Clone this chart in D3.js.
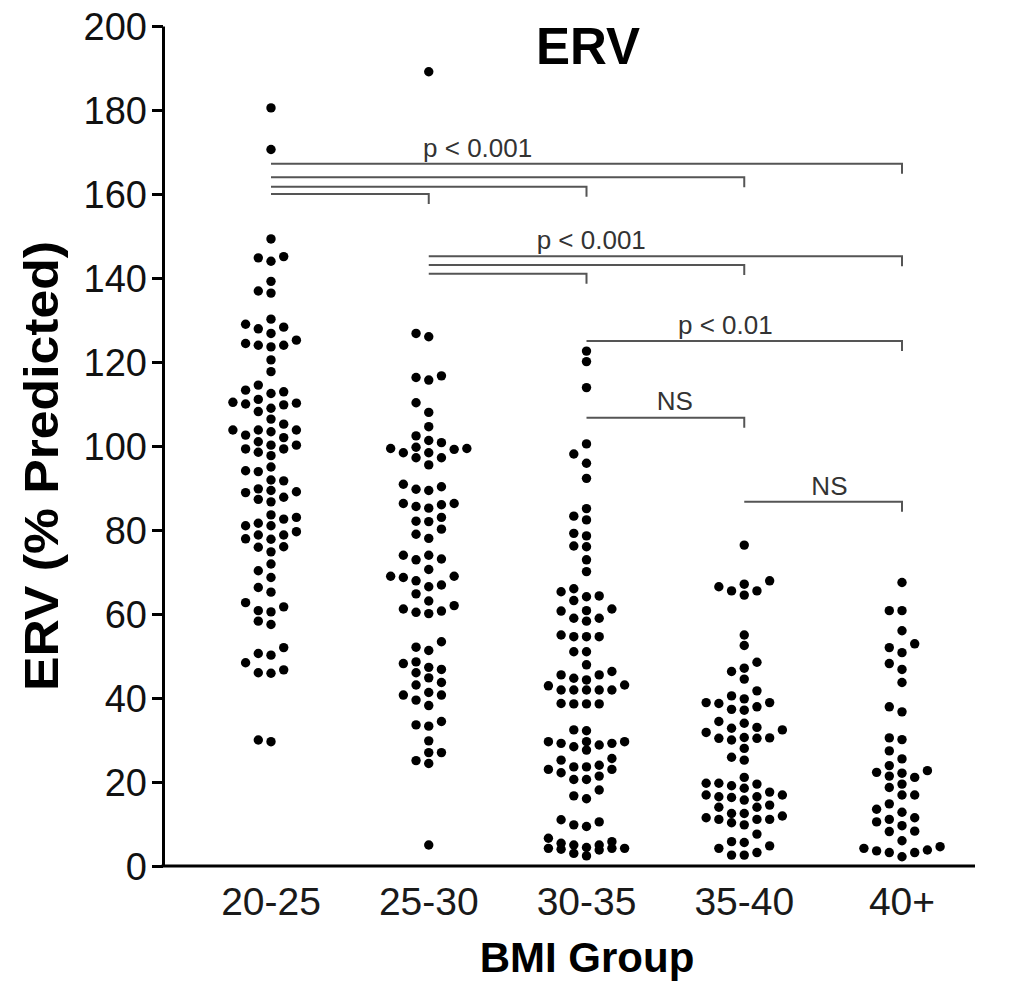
<!DOCTYPE html>
<html>
<head>
<meta charset="utf-8">
<script src="https://cdn.jsdelivr.net/npm/d3@7"></script>
<style>
  html, body { margin: 0; padding: 0; background: #fff; }
  svg { display: block; font-family: "Liberation Sans", Arial, Helvetica, sans-serif; }
</style>
</head>
<body>
<svg id="chart" width="1012" height="987"></svg>
<script>
// ---------- data ----------
const categories = ["20-25", "25-30", "30-35", "35-40", "40+"];

const erv_20_25 = [180.5, 170.6, 149.3, 145.1, 144.0, 144.8, 139.2, 136.9, 136.4, 130.2,
  129.0, 127.9, 128.3, 126.8, 125.2, 124.0, 123.6, 124.0, 124.4, 120.5, 117.7, 114.5, 112.9,
  113.3, 112.5, 110.4, 110.0, 109.8, 110.2, 111.1, 109.0, 108.2, 106.4, 103.8, 103.8, 102.6,
  102.0, 103.4, 103.8, 105.2, 101.0, 100.2, 99.3, 97.7, 98.5, 99.3, 100.2, 94.1, 93.9, 95.0,
  91.9, 91.7, 89.4, 88.9, 87.3, 86.7, 87.8, 89.1, 89.8, 83.6, 82.6, 83.0, 81.0, 81.6, 81.0,
  78.8, 77.8, 79.6, 77.9, 78.8, 74.8, 75.9, 76.0, 71.9, 70.3, 68.7, 66.3, 65.2, 62.7, 60.8,
  61.7, 60.5, 58.3, 57.5, 52.0, 50.2, 50.6, 48.4, 46.0, 45.9, 46.7, 29.6, 30.0];

const erv_25_30 = [189.1, 126.0, 126.8, 116.3, 115.7, 116.7, 110.3, 108.0, 104.6, 102.4,
  101.3, 100.8, 99.7, 98.4, 99.4, 97.2, 99.2, 99.4, 97.2, 98.4, 95.5, 90.3, 89.4, 89.7, 90.9,
  86.3, 85.6, 85.2, 86.0, 86.3, 83.0, 82.0, 82.1, 80.2, 79.0, 78.0, 74.0, 72.9, 73.1, 74.0,
  70.6, 69.0, 68.7, 66.9, 67.9, 69.0, 66.5, 64.8, 63.1, 61.2, 60.4, 60.1, 60.7, 62.0, 53.4,
  51.3, 52.1, 48.6, 46.8, 48.2, 47.3, 46.0, 43.1, 44.8, 43.7, 40.7, 41.3, 39.5, 40.7, 38.2,
  33.6, 33.3, 34.4, 29.8, 27.0, 25.1, 24.4, 27.0, 5.0];

const erv_30_35 = [122.6, 120.1, 113.9, 100.5, 98.1, 95.9, 92.3, 85.1, 82.4, 83.3, 78.6,
  79.2, 76.0, 76.2, 72.9, 70.1, 66.0, 64.3, 63.2, 64.1, 65.3, 61.2, 60.7, 59.0, 58.3, 59.0,
  60.8, 54.6, 54.6, 54.6, 55.0, 51.0, 51.0, 47.9, 46.3, 44.7, 45.5, 45.5, 44.3, 42.9, 41.9,
  41.9, 41.9, 41.9, 41.9, 43.1, 38.6, 38.6, 38.6, 38.7, 32.4, 32.2, 29.6, 29.2, 28.8, 27.6,
  29.6, 28.4, 29.2, 29.6, 25.2, 23.0, 23.6, 23.6, 24.0, 25.6, 23.0, 22.2, 21.4, 20.6, 20.6,
  18.1, 16.7, 16.0, 10.5, 9.4, 9.8, 11.0, 4.2, 3.8, 5.4, 4.2, 6.6, 4.4, 3.0, 5.0, 5.0, 4.0,
  4.2, 2.4, 5.8];

const erv_35_40 = [76.4, 67.1, 65.5, 67.9, 64.5, 65.5, 66.5, 55.0, 52.5, 48.5, 46.3, 47.1,
  44.5, 40.5, 41.7, 38.9, 38.7, 37.3, 37.1, 37.9, 38.9, 39.8, 34.0, 34.4, 33.0, 32.8, 31.8,
  30.6, 30.4, 30.0, 30.4, 30.5, 32.4, 28.0, 25.2, 25.9, 21.1, 19.7, 19.7, 19.1, 18.5, 19.5,
  16.9, 16.5, 16.3, 16.9, 17.6, 15.7, 16.5, 14.5, 14.0, 14.0, 11.9, 11.1, 11.1, 12.5, 12.5,
  9.8, 10.3, 11.1, 11.5, 7.6, 4.8, 5.8, 3.2, 5.6, 2.6, 2.6, 4.2];

const erv_40_plus = [67.5, 60.8, 60.8, 56.0, 52.0, 50.8, 52.9, 48.2, 46.8, 43.7, 36.7, 37.9,
  30.5, 30.1, 27.4, 25.5, 23.9, 22.3, 21.4, 21.1, 22.1, 22.7, 18.7, 19.5, 16.9, 16.9, 14.8,
  13.5, 11.1, 12.8, 10.5, 11.5, 8.2, 9.6, 8.3, 6.0, 4.6, 3.8, 3.2, 2.2, 3.2, 3.6, 4.2];

const seriesValues = [erv_20_25, erv_25_30, erv_30_35, erv_35_40, erv_40_plus];

const yTicks = [0, 20, 40, 60, 80, 100, 120, 140, 160, 180, 200];

// comparison brackets (group indices, level in % predicted)
const bracketFrom  = [0, 0, 0, 0, 1, 1, 1, 2, 2, 3];
const bracketTo    = [4, 3, 2, 1, 4, 3, 2, 4, 3, 4];
const bracketLevel = [167.2, 164.0, 161.7, 160.0, 145.2, 143.1, 141.0, 125.0, 106.7, 86.7];

// significance labels (position in group-index units, level in % predicted)
const sigText  = ["p < 0.001", "p < 0.001", "p < 0.01", "NS", "NS"];
const sigAt    = [1.31, 2.03, 2.88, 2.56, 3.54];
const sigLevel = [168.8, 146.8, 126.7, 108.6, 88.3];

// ---------- layout ----------
const svg = d3.select("#chart");
const axisX = 163, axisBottom = 866, axisTop = 26, axisRight = 975;

const x = d3.scalePoint().domain(categories).range([271, 902]);
const xi = d3.scaleLinear().domain([0, categories.length - 1]).range([271, 902]);
const y = d3.scaleLinear().domain([0, 200]).range([axisBottom, axisTop]);

// ---------- axes ----------
const yAxis = d3.axisLeft(y).tickValues(yTicks).tickSize(11).tickSizeOuter(0).tickPadding(5);
const gy = svg.append("g").attr("transform", `translate(${axisX},0)`).call(yAxis);
gy.select(".domain").attr("stroke", "#000").attr("stroke-width", 3);
gy.selectAll(".tick line").attr("stroke", "#000").attr("stroke-width", 3);
gy.selectAll(".tick text").attr("font-size", 38).attr("fill", "#111").attr("dy", "0.36em");

svg.append("line")
  .attr("x1", axisX - 1.5).attr("x2", axisRight)
  .attr("y1", axisBottom).attr("y2", axisBottom)
  .attr("stroke", "#000").attr("stroke-width", 3);

svg.append("g").selectAll("text").data(categories).join("text")
  .attr("x", d => x(d)).attr("y", 915)
  .attr("text-anchor", "middle").attr("font-size", 39).attr("fill", "#1a1a1a")
  .text(d => d);

// titles
svg.append("text").attr("x", 588).attr("y", 64).attr("text-anchor", "middle")
  .attr("font-size", 51).attr("font-weight", "bold").text("ERV");
svg.append("text").attr("x", 587).attr("y", 972).attr("text-anchor", "middle")
  .attr("font-size", 42).attr("font-weight", "bold").text("BMI Group");
svg.append("text").attr("transform", "translate(58,466) rotate(-90)")
  .attr("text-anchor", "middle").attr("font-size", 48).attr("font-weight", "bold")
  .attr("textLength", 450).attr("lengthAdjust", "spacingAndGlyphs")
  .text("ERV (% Predicted)");

// ---------- brackets ----------
const bracketG = svg.append("g").attr("fill", "none").attr("stroke", "#555").attr("stroke-width", 2);
bracketFrom.forEach((f, i) => {
  const x0 = xi(f), x1 = xi(bracketTo[i]), yy = y(bracketLevel[i]);
  bracketG.append("path").attr("d", `M${x0},${yy}H${x1}V${yy + 10}`);
});
svg.append("g").selectAll("text").data(sigText).join("text")
  .attr("x", (d, i) => xi(sigAt[i])).attr("y", (d, i) => y(sigLevel[i]))
  .attr("text-anchor", "middle").attr("font-size", 26).attr("fill", "#333")
  .text(d => d);

// ---------- dots (beeswarm on discrete columns, max 7 columns) ----------
const r = 4.7, step = 12.7, minDy = 10.5, maxK = 3;
function swarm(values, cx) {
  const pts = values.map(v => ({ v, py: y(v) })).sort((a, b) => b.py - a.py);
  const placed = [];
  const order = [0];
  for (let k = 1; k <= maxK; k++) order.push(-k, k);
  pts.forEach(p => {
    let best = null, bestGap = -1;
    for (const k of order) {
      const same = placed.filter(q => q.k === k);
      const gap = same.length ? d3.min(same, q => Math.abs(q.py - p.py)) : Infinity;
      if (gap >= minDy) { best = k; break; }
      if (gap > bestGap) { bestGap = gap; best = k; }
    }
    p.k = best;
    placed.push(p);
  });
  return pts.map(p => ({ cx: cx + p.k * step, cy: p.py }));
}
const dotsG = svg.append("g");
seriesValues.forEach((vals, gi) => {
  dotsG.append("g").selectAll("circle").data(swarm(vals, x(categories[gi]))).join("circle")
    .attr("cx", d => d.cx).attr("cy", d => d.cy).attr("r", r).attr("fill", "#000");
});
</script>
</body>
</html>
